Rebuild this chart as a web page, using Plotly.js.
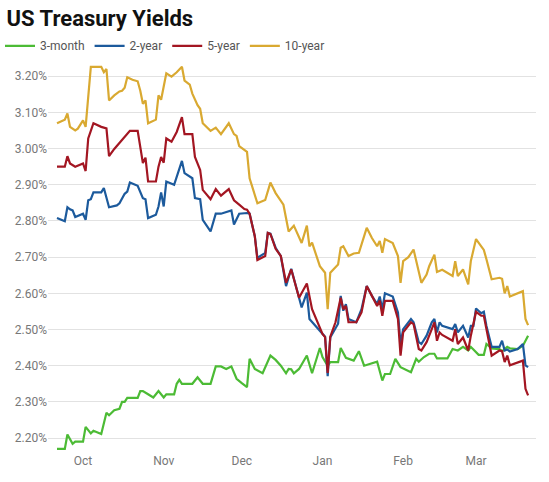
<!DOCTYPE html>
<html>
<head>
<meta charset="utf-8">
<script src="https://cdn.plot.ly/plotly-3.0.1.min.js"></script>
<style>
html,body{margin:0;padding:0;background:#fff;}
#chart{width:549px;height:482px;}
</style>
</head>
<body>
<div id="chart"></div>
<script>
// ---- Data ----
var seriesNames = ["3-month", "2-year", "5-year", "10-year"];
var seriesColors = ["#4cbb35", "#1c5a9c", "#a31622", "#d9a931"];

var dates3m = ["2018-09-21","2018-09-24","2018-09-25","2018-09-27","2018-09-28","2018-10-01","2018-10-02","2018-10-04","2018-10-05","2018-10-08","2018-10-10","2018-10-11","2018-10-13","2018-10-15","2018-10-16","2018-10-17","2018-10-18","2018-10-22","2018-10-23","2018-10-24","2018-10-26","2018-10-28","2018-10-30","2018-11-01","2018-11-02","2018-11-05","2018-11-06","2018-11-07","2018-11-08","2018-11-12","2018-11-14","2018-11-16","2018-11-19","2018-11-21","2018-11-23","2018-11-25","2018-11-27","2018-11-29","2018-12-01","2018-12-03","2018-12-04","2018-12-06","2018-12-09","2018-12-12","2018-12-14","2018-12-16","2018-12-18","2018-12-19","2018-12-20","2018-12-21","2018-12-23","2018-12-26","2018-12-28","2018-12-31","2019-01-01","2019-01-03","2019-01-04","2019-01-07","2019-01-08","2019-01-10","2019-01-13","2019-01-15","2019-01-17","2019-01-19","2019-01-22","2019-01-24","2019-01-25","2019-01-27","2019-01-29","2019-01-31","2019-02-04","2019-02-06","2019-02-07","2019-02-09","2019-02-11","2019-02-13","2019-02-14","2019-02-18","2019-02-20","2019-02-22","2019-02-24","2019-02-26","2019-02-27","2019-02-28","2019-03-02","2019-03-04","2019-03-05","2019-03-07","2019-03-10","2019-03-11","2019-03-13","2019-03-14","2019-03-17","2019-03-19","2019-03-20","2019-03-21"];
var yield3m = [2.17,2.17,2.21,2.184,2.19,2.19,2.231,2.213,2.22,2.211,2.27,2.263,2.277,2.281,2.30,2.30,2.311,2.311,2.33,2.33,2.321,2.312,2.33,2.312,2.321,2.321,2.35,2.361,2.35,2.35,2.368,2.35,2.35,2.398,2.398,2.391,2.398,2.364,2.352,2.341,2.419,2.391,2.379,2.428,2.416,2.40,2.379,2.391,2.39,2.379,2.391,2.428,2.379,2.449,2.424,2.40,2.41,2.41,2.449,2.422,2.414,2.44,2.40,2.405,2.411,2.359,2.377,2.377,2.419,2.396,2.382,2.419,2.411,2.424,2.433,2.433,2.42,2.42,2.446,2.442,2.452,2.442,2.452,2.445,2.43,2.43,2.46,2.448,2.446,2.44,2.452,2.448,2.446,2.455,2.469,2.483];

var dates2y = ["2018-09-21","2018-09-24","2018-09-25","2018-09-26","2018-09-27","2018-09-28","2018-10-01","2018-10-02","2018-10-03","2018-10-04","2018-10-05","2018-10-08","2018-10-09","2018-10-11","2018-10-14","2018-10-15","2018-10-17","2018-10-18","2018-10-19","2018-10-22","2018-10-24","2018-10-25","2018-10-26","2018-10-29","2018-10-30","2018-10-31","2018-11-01","2018-11-02","2018-11-05","2018-11-08","2018-11-09","2018-11-12","2018-11-13","2018-11-15","2018-11-16","2018-11-19","2018-11-21","2018-11-23","2018-11-27","2018-11-28","2018-11-30","2018-12-03","2018-12-04","2018-12-06","2018-12-07","2018-12-10","2018-12-11","2018-12-12","2018-12-14","2018-12-16","2018-12-18","2018-12-20","2018-12-24","2018-12-26","2018-12-27","2019-01-01","2019-01-02","2019-01-03","2019-01-04","2019-01-07","2019-01-08","2019-01-09","2019-01-10","2019-01-11","2019-01-14","2019-01-16","2019-01-18","2019-01-20","2019-01-22","2019-01-23","2019-01-24","2019-01-25","2019-01-28","2019-01-30","2019-01-31","2019-02-01","2019-02-04","2019-02-05","2019-02-07","2019-02-08","2019-02-10","2019-02-12","2019-02-13","2019-02-14","2019-02-15","2019-02-16","2019-02-20","2019-02-21","2019-02-22","2019-02-24","2019-02-26","2019-02-27","2019-02-28","2019-03-01","2019-03-03","2019-03-04","2019-03-05","2019-03-07","2019-03-10","2019-03-11","2019-03-12","2019-03-13","2019-03-14","2019-03-17","2019-03-19","2019-03-20","2019-03-21"];
var yield2y = [2.808,2.799,2.838,2.832,2.829,2.811,2.82,2.803,2.857,2.86,2.879,2.879,2.891,2.838,2.843,2.849,2.875,2.881,2.906,2.897,2.863,2.86,2.808,2.817,2.84,2.879,2.84,2.909,2.90,2.966,2.932,2.918,2.863,2.86,2.803,2.771,2.82,2.82,2.829,2.79,2.82,2.822,2.82,2.758,2.698,2.712,2.767,2.765,2.726,2.703,2.62,2.668,2.561,2.602,2.529,2.488,2.48,2.371,2.478,2.516,2.593,2.552,2.57,2.529,2.52,2.556,2.62,2.593,2.57,2.591,2.556,2.60,2.591,2.547,2.46,2.501,2.529,2.52,2.465,2.46,2.483,2.52,2.529,2.492,2.52,2.51,2.501,2.515,2.492,2.51,2.478,2.51,2.51,2.558,2.545,2.549,2.51,2.452,2.452,2.469,2.442,2.445,2.439,2.446,2.46,2.401,2.396];

var dates5y = ["2018-09-21","2018-09-24","2018-09-25","2018-09-26","2018-09-28","2018-09-30","2018-10-01","2018-10-02","2018-10-03","2018-10-05","2018-10-08","2018-10-10","2018-10-11","2018-10-13","2018-10-17","2018-10-19","2018-10-22","2018-10-24","2018-10-25","2018-10-26","2018-10-29","2018-10-30","2018-10-31","2018-11-01","2018-11-02","2018-11-04","2018-11-06","2018-11-08","2018-11-09","2018-11-12","2018-11-13","2018-11-15","2018-11-16","2018-11-19","2018-11-21","2018-11-23","2018-11-26","2018-11-28","2018-11-30","2018-12-02","2018-12-03","2018-12-04","2018-12-06","2018-12-07","2018-12-10","2018-12-11","2018-12-12","2018-12-14","2018-12-16","2018-12-18","2018-12-20","2018-12-23","2018-12-26","2018-12-28","2019-01-01","2019-01-02","2019-01-03","2019-01-04","2019-01-06","2019-01-08","2019-01-09","2019-01-10","2019-01-11","2019-01-14","2019-01-16","2019-01-18","2019-01-20","2019-01-22","2019-01-23","2019-01-24","2019-01-25","2019-01-28","2019-01-30","2019-01-31","2019-02-01","2019-02-04","2019-02-05","2019-02-07","2019-02-08","2019-02-10","2019-02-12","2019-02-13","2019-02-14","2019-02-15","2019-02-16","2019-02-20","2019-02-21","2019-02-22","2019-02-24","2019-02-26","2019-02-27","2019-03-01","2019-03-03","2019-03-04","2019-03-05","2019-03-07","2019-03-10","2019-03-11","2019-03-12","2019-03-13","2019-03-14","2019-03-17","2019-03-19","2019-03-20","2019-03-21"];
var yield5y = [2.95,2.95,2.979,2.959,2.95,2.957,2.959,2.938,3.028,3.07,3.06,3.056,2.979,2.999,3.032,3.049,3.049,2.96,2.975,2.909,2.909,2.95,2.977,2.961,3.028,3.019,3.046,3.087,3.04,3.04,2.977,2.941,2.886,2.86,2.888,2.87,2.888,2.857,2.845,2.833,2.831,2.82,2.758,2.692,2.703,2.767,2.764,2.723,2.703,2.629,2.666,2.588,2.627,2.556,2.488,2.479,2.38,2.48,2.52,2.588,2.556,2.565,2.52,2.52,2.547,2.62,2.593,2.565,2.58,2.538,2.579,2.579,2.529,2.428,2.492,2.52,2.515,2.446,2.442,2.465,2.501,2.52,2.469,2.492,2.485,2.469,2.501,2.46,2.478,2.442,2.483,2.549,2.538,2.538,2.501,2.428,2.442,2.44,2.41,2.428,2.401,2.41,2.414,2.336,2.318];

var dates10y = ["2018-09-21","2018-09-24","2018-09-25","2018-09-26","2018-09-28","2018-09-29","2018-10-01","2018-10-02","2018-10-04","2018-10-08","2018-10-09","2018-10-10","2018-10-11","2018-10-13","2018-10-15","2018-10-16","2018-10-17","2018-10-18","2018-10-20","2018-10-22","2018-10-23","2018-10-24","2018-10-25","2018-10-26","2018-10-29","2018-10-30","2018-10-31","2018-11-02","2018-11-04","2018-11-06","2018-11-08","2018-11-09","2018-11-11","2018-11-12","2018-11-14","2018-11-15","2018-11-16","2018-11-18","2018-11-19","2018-11-21","2018-11-23","2018-11-26","2018-11-28","2018-11-29","2018-11-30","2018-12-03","2018-12-04","2018-12-07","2018-12-10","2018-12-12","2018-12-14","2018-12-17","2018-12-19","2018-12-21","2018-12-24","2018-12-26","2018-12-27","2018-12-28","2018-12-31","2019-01-02","2019-01-03","2019-01-04","2019-01-07","2019-01-08","2019-01-09","2019-01-11","2019-01-13","2019-01-15","2019-01-16","2019-01-18","2019-01-20","2019-01-22","2019-01-23","2019-01-24","2019-01-25","2019-01-28","2019-01-30","2019-01-31","2019-02-01","2019-02-03","2019-02-05","2019-02-07","2019-02-08","2019-02-10","2019-02-11","2019-02-13","2019-02-14","2019-02-16","2019-02-20","2019-02-21","2019-02-22","2019-02-24","2019-02-26","2019-02-27","2019-03-01","2019-03-03","2019-03-04","2019-03-05","2019-03-07","2019-03-10","2019-03-11","2019-03-12","2019-03-13","2019-03-14","2019-03-17","2019-03-19","2019-03-20","2019-03-21"];
var yield10y = [3.07,3.08,3.097,3.06,3.05,3.055,3.078,3.06,3.226,3.226,3.211,3.22,3.133,3.147,3.158,3.16,3.168,3.197,3.19,3.186,3.16,3.124,3.133,3.07,3.08,3.147,3.135,3.208,3.199,3.211,3.226,3.188,3.177,3.152,3.12,3.11,3.07,3.056,3.049,3.058,3.04,3.07,3.04,3.035,3.007,2.991,2.918,2.849,2.858,2.906,2.877,2.845,2.771,2.787,2.739,2.787,2.73,2.74,2.675,2.657,2.556,2.657,2.68,2.726,2.73,2.703,2.71,2.712,2.735,2.781,2.753,2.73,2.745,2.712,2.75,2.739,2.703,2.629,2.689,2.70,2.721,2.657,2.629,2.652,2.675,2.707,2.659,2.665,2.648,2.689,2.648,2.666,2.625,2.689,2.75,2.73,2.72,2.694,2.639,2.643,2.64,2.60,2.62,2.591,2.60,2.606,2.529,2.512];

var yTickVals = [2.2, 2.3, 2.4, 2.5, 2.6, 2.7, 2.8, 2.9, 3.0, 3.1, 3.2];
var yTickText = yTickVals.map(function(v){ return v.toFixed(2) + '%'; });

var allDates = [dates3m, dates2y, dates5y, dates10y];
var allYields = [yield3m, yield2y, yield5y, yield10y];

var traces = seriesNames.map(function(name, i){
  return {
    type: 'scatter', mode: 'lines', name: name,
    x: allDates[i], y: allYields[i],
    line: {color: seriesColors[i], width: 2.2},
    hoverinfo: 'skip'
  };
});

var layout = {
  width: 549, height: 482,
  paper_bgcolor: '#ffffff', plot_bgcolor: '#ffffff',
  margin: {l: 48, r: 13, t: 58, b: 30},
  font: {family: 'Roboto, "Open Sans", sans-serif', color: '#666', size: 12},
  title: {
    text: 'US Treasury Yields',
    font: {family: 'Roboto, sans-serif', size: 22, color: '#111', weight: 'bold'},
    x: 0.012, xref: 'container', xanchor: 'left',
    y: 0.963, yref: 'container', yanchor: 'middle'
  },
  showlegend: true,
  legend: {
    orientation: 'h', xref: 'container', yref: 'container',
    x: 0.0, xanchor: 'left', y: 0.905, yanchor: 'middle',
    font: {size: 12, color: '#555'}, itemwidth: 30,
    traceorder: 'normal', bgcolor: 'rgba(0,0,0,0)'
  },
  xaxis: {
    type: 'date',
    range: ['2018-09-17 13:00', '2019-03-24 01:00'],
    tick0: '2018-10-01', dtick: 'M1', tickformat: '%b',
    showgrid: false, zeroline: false, showline: false,
    ticks: '', tickfont: {size: 12, color: '#777'}
  },
  yaxis: {
    range: [2.1615, 3.244],
    tickmode: 'array', tickvals: yTickVals, ticktext: yTickText,
    showgrid: true, gridcolor: '#e2e2e2', gridwidth: 1,
    zeroline: false, showline: false, ticks: '',
    tickfont: {size: 12, color: '#777'}
  }
};

Plotly.newPlot('chart', traces, layout, {displayModeBar: false, staticPlot: true});
</script>
</body>
</html>
